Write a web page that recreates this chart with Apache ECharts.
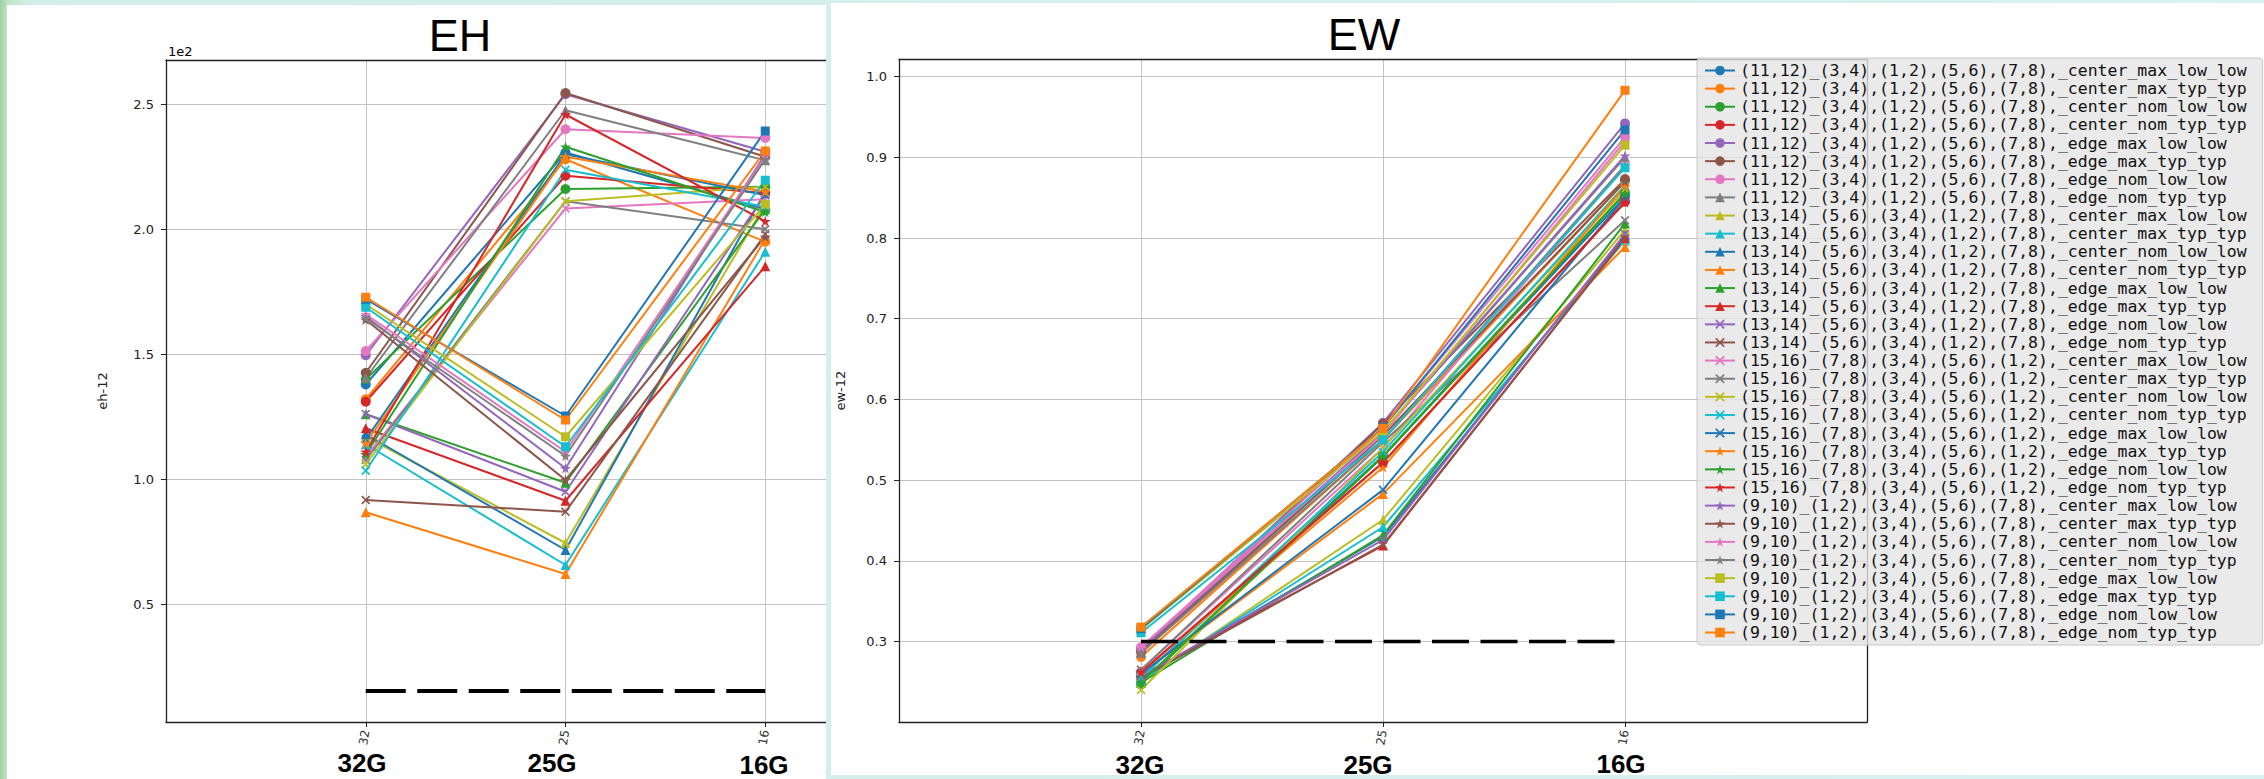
<!DOCTYPE html>
<html><head><meta charset="utf-8">
<script src="https://cdn.jsdelivr.net/npm/echarts@6/dist/echarts.min.js"></script>
<style>
html,body{margin:0;padding:0;}
body{width:2264px;height:779px;position:relative;overflow:hidden;
 background:linear-gradient(90deg,#9dd1a3 0px,#bfe3c8 7px,#d3eee6 30px,#d8f1f1 100%);}
#pL{position:absolute;left:7px;top:5px;width:819px;height:774px;background:#fff;}
#pR{position:absolute;left:831px;top:3px;width:1433px;height:772px;background:#fff;}
#clipL{position:absolute;left:0;top:0;width:826px;height:779px;overflow:hidden;}
#cL{position:absolute;left:0;top:0;width:1100px;height:779px;}
#cR{position:absolute;left:826px;top:0;width:1438px;height:779px;}
</style></head><body>
<div id="pL"></div><div id="pR"></div>
<div id="clipL"><div id="cL"></div></div>
<div id="cR"></div>
<script>
// ---------------- data ----------------
const categories = ['32', '25', '16'];
const bottomLabels = ['32G', '25G', '16G'];
const groupPrefixes = [
  '(11,12)_(3,4),(1,2),(5,6),(7,8),',
  '(13,14)_(5,6),(3,4),(1,2),(7,8),',
  '(15,16)_(7,8),(3,4),(5,6),(1,2),',
  '(9,10)_(1,2),(3,4),(5,6),(7,8),'
];
const caseSuffixes = [
  '_center_max_low_low', '_center_max_typ_typ', '_center_nom_low_low', '_center_nom_typ_typ',
  '_edge_max_low_low', '_edge_max_typ_typ', '_edge_nom_low_low', '_edge_nom_typ_typ'
];
const seriesNames = groupPrefixes.flatMap(p => caseSuffixes.map(s => p + s));

// EH values (real units; axis shows them x1e2)
const ehAt32 = [
  137.9, 132.0, 140.0, 131.0, 149.6, 142.6, 151.3, 140.5,
  117.0, 114.0, 118.0,  86.8, 126.0, 120.4, 126.1,  91.7,
  109.0, 107.7, 106.0, 103.4, 116.0, 114.4, 110.0, 111.0,
  165.2, 163.8, 166.0, 164.5, 170.0, 168.8, 172.0, 172.8
];
const ehAt25 = [
  230.7, 228.0, 216.1, 221.4, 254.0, 254.5, 240.0, 247.6,
   74.5,  65.7,  71.7,  62.1,  98.6,  91.4,  95.0,  87.0,
  208.3, 211.2, 211.2, 223.8, 230.0, 229.0, 233.0, 245.9,
  104.4,  99.7, 111.0, 109.3, 117.0, 113.0, 125.3, 123.7
];
const ehAt16 = [
  208.0, 195.0, 217.0, 214.5, 231.0, 229.0, 236.5, 227.6,
  210.0, 191.0, 215.0, 196.0, 208.0, 185.2, 214.0, 198.0,
  212.0, 200.0, 217.0, 209.0, 213.6, 215.0, 206.9, 203.2,
  230.0, 197.0, 229.0, 228.0, 210.0, 219.6, 239.3, 231.3
];
// EW values
const ewAt32 = [
  0.256, 0.281, 0.247, 0.262, 0.291, 0.287, 0.293, 0.286,
  0.250, 0.252, 0.255, 0.260, 0.249, 0.258, 0.257, 0.255,
  0.265, 0.265, 0.240, 0.255, 0.260, 0.262, 0.250, 0.262,
  0.290, 0.287, 0.293, 0.286, 0.315, 0.311, 0.316, 0.318
];
const ewAt25 = [
  0.530, 0.550, 0.530, 0.522, 0.571, 0.570, 0.565, 0.560,
  0.451, 0.442, 0.430, 0.483, 0.432, 0.419, 0.426, 0.420,
  0.540, 0.547, 0.540, 0.535, 0.488, 0.516, 0.529, 0.522,
  0.560, 0.555, 0.557, 0.550, 0.560, 0.550, 0.565, 0.564
];
const ewAt16 = [
  0.851, 0.870, 0.856, 0.845, 0.942, 0.873, 0.925, 0.900,
  0.810, 0.797, 0.803, 0.789, 0.818, 0.800, 0.805, 0.799,
  0.890, 0.822, 0.860, 0.865, 0.850, 0.864, 0.855, 0.844,
  0.902, 0.870, 0.920, 0.890, 0.915, 0.887, 0.934, 0.983
];
const ehLimit = 15.3;
const ewLimit = 0.30;
const ehTicks = [50, 100, 150, 200, 250];
const ewTicks = [0.3, 0.4, 0.5, 0.6, 0.7, 0.8, 0.9, 1.0];

// ---------------- styling ----------------
const palette = ['#1f77b4','#ff7f0e','#2ca02c','#d62728','#9467bd','#8c564b','#e377c2','#7f7f7f','#bcbd22','#17becf'];
const X_PATH = 'path://M0,1.3L1.3,0L5,3.7L8.7,0L10,1.3L6.3,5L10,8.7L8.7,10L5,6.3L1.3,10L0,8.7L3.7,5Z';
const STAR_PATH = 'path://M50,0L61.2,34.5L97.6,34.5L68.2,55.9L79.4,90.5L50,69.1L20.6,90.5L31.8,55.9L2.4,34.5L38.8,34.5Z';
const markerCycle = [
  {symbol: 'circle', size: 10}, {symbol: 'triangle', size: 10}, {symbol: X_PATH, size: 9},
  {symbol: STAR_PATH, size: 11}, {symbol: 'rect', size: 9}
];
const markerOf = i => markerCycle[Math.floor(i / 7)];
const AX = '#222', GRIDC = '#c2c2c2', FONT = 'DejaVu Sans';

function buildSeries(a, b, c, limit, dash, width) {
  const s = seriesNames.map((name, i) => ({
    type: 'line', name,
    data: [[0, a[i]], [1, b[i]], [2, c[i]]],
    symbol: markerOf(i).symbol, symbolSize: markerOf(i).size, symbolKeepAspect: true,
    lineStyle: {width: 2, color: palette[i % 10]},
    itemStyle: {color: palette[i % 10]},
    emphasis: {disabled: true}, animation: false, z: 2
  }));
  s.push({type: 'line', name: 'limit', data: [[0, limit], [2, limit]], symbol: 'none',
    lineStyle: {color: '#000', width, type: dash}, z: 3, silent: true, animation: false});
  return s;
}
function xAxes() {
  return [{
    type: 'value', min: -1, max: 3, interval: 1, position: 'bottom',
    axisLine: {show: true, onZero: false, lineStyle: {color: AX, width: 1.3}},
    axisTick: {show: true, length: 5, customValues: [0, 1, 2], lineStyle: {color: AX, width: 1}},
    axisLabel: {customValues: [0, 1, 2], formatter: v => categories[Math.round(v)], rotate: 80,
      margin: 8, fontSize: 12, fontFamily: FONT, color: '#333'},
    splitLine: {show: true, lineStyle: {color: GRIDC, width: 1}}
  }, {
    type: 'value', min: -1, max: 3, interval: 1, position: 'top',
    axisLine: {show: true, onZero: false, lineStyle: {color: AX, width: 1.3}},
    axisTick: {show: false}, axisLabel: {show: false}, splitLine: {show: false}
  }];
}
function yAxes(min, max, step, ticks, fmt, name, gap) {
  return [{
    type: 'value', min, max, minInterval: step, maxInterval: step, position: 'left',
    name, nameLocation: 'middle', nameGap: gap,
    nameTextStyle: {fontFamily: FONT, fontSize: 13, color: '#222'},
    axisLine: {show: true, onZero: false, lineStyle: {color: AX, width: 1.3}},
    axisTick: {show: true, length: 5, customValues: ticks, lineStyle: {color: AX, width: 1}},
    axisLabel: {customValues: ticks, formatter: fmt, margin: 12, fontSize: 13, fontFamily: FONT, color: '#222'},
    splitLine: {show: true, lineStyle: {color: GRIDC, width: 1}}
  }, {
    type: 'value', min, max, position: 'right',
    axisLine: {show: true, onZero: false, lineStyle: {color: AX, width: 1.3}},
    axisTick: {show: false}, axisLabel: {show: false}, splitLine: {show: false}
  }];
}
function txt(x, y, text, font, align) {
  return {type: 'text', x, y, silent: true, z: 10,
    style: {text, font, fill: '#000', textAlign: align || 'center', textVerticalAlign: 'middle'}};
}

// ---------------- EH (left) ----------------
const chartL = echarts.init(document.getElementById('cL'), null, {renderer: 'svg'});
chartL.setOption({
  animation: false,
  grid: {left: 166, top: 60, width: 799, height: 662},
  xAxis: xAxes(),
  yAxis: yAxes(2.9, 267.7, 50, ehTicks, v => (v / 100).toFixed(1), 'eh-12', 57),
  series: buildSeries(ehAt32, ehAt25, ehAt16, ehLimit, [40, 11.5], 4),
  graphic: [
    txt(460, 35, 'EH', '45px "Liberation Sans"'),
    txt(168, 51, '1e2', '13px "DejaVu Sans"', 'left'),
    txt(362, 763, bottomLabels[0], 'bold 26px "Liberation Sans"'),
    txt(552, 763, bottomLabels[1], 'bold 26px "Liberation Sans"'),
    txt(764, 765, bottomLabels[2], 'bold 26px "Liberation Sans"')
  ]
});

// ---------------- EW (right) ----------------
const chartR = echarts.init(document.getElementById('cR'), null, {renderer: 'svg'});
chartR.setOption({
  animation: false,
  grid: {left: 65, top: 59.3, width: 976, height: 662.7},
  xAxis: xAxes(),
  yAxis: yAxes(0.2004, 1.0214, 0.1, ewTicks, v => v.toFixed(1), 'ew-12', 52),
  series: buildSeries(ewAt32, ewAt25, ewAt16, ewLimit, [37, 11.5], 3.5),
  legend: {
    data: seriesNames, orient: 'vertical', left: 871, top: 58,
    itemWidth: 30, itemHeight: 12, itemGap: 1.13, selectedMode: false,
    textStyle: {fontFamily: 'DejaVu Sans Mono', fontSize: 16.5, lineHeight: 12, color: '#111'},
    backgroundColor: 'rgba(229,229,229,0.8)', borderColor: '#c8c8c8', borderWidth: 1, borderRadius: 4,
    padding: [4, 16, 4, 7]
  },
  graphic: [
    txt(538, 34, 'EW', '45px "Liberation Sans"'),
    txt(314, 765, bottomLabels[0], 'bold 26px "Liberation Sans"'),
    txt(542, 765, bottomLabels[1], 'bold 26px "Liberation Sans"'),
    txt(795, 764, bottomLabels[2], 'bold 26px "Liberation Sans"')
  ]
});
</script>
</body></html>
